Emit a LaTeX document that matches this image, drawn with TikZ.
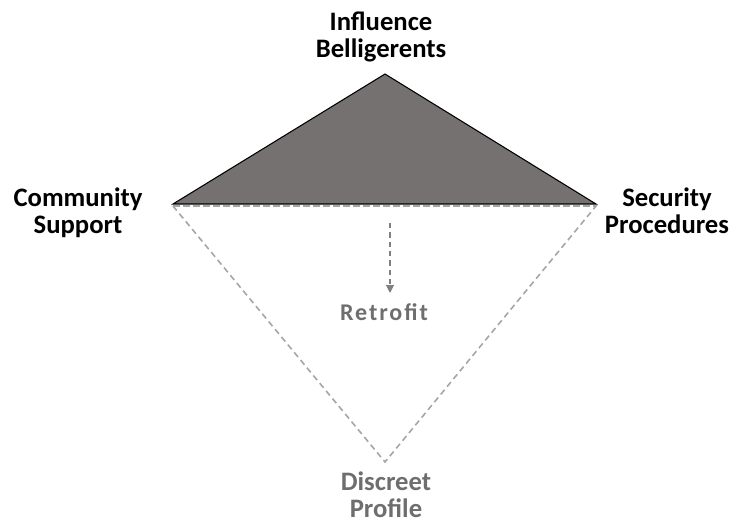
\documentclass[tikz,border=0pt]{standalone}
\usepackage{fontspec}
\setmainfont{Carlito}
\newfontfamily\retrofont[LetterSpace=8]{Carlito}
\usetikzlibrary{arrows.meta}
\definecolor{trifill}{HTML}{767171}
\definecolor{dashgray}{HTML}{A6A6A6}
\definecolor{labgray}{HTML}{6E6E6E}
\begin{document}
\begin{tikzpicture}[x=0.75pt,y=-0.75pt,
  lab/.style={align=center,anchor=base,inner sep=0pt,
    font=\fontsize{20}{20.25}\selectfont\bfseries},
  graylab/.style={lab,text=labgray},
  dashedge/.style={draw=dashgray,line width=1.2pt,dash pattern=on 4.5pt off 3pt},
  arrowline/.style={draw=gray,line width=0.8pt,dash pattern=on 4pt off 3pt,
    -{Triangle[length=6pt,width=6pt]}}]
\useasboundingbox (0,0) rectangle (747,525);
\coordinate (T) at (385,74);
\coordinate (L) at (173,204);
\coordinate (R) at (596,204);
\coordinate (B) at (385,462);
\coordinate (L2) at (173,206);
\coordinate (R2) at (596,206);
% lower dashed triangle
\draw[dashedge] (L2) -- (B) -- (R2) -- cycle;
% upper filled triangle
\filldraw[fill=trifill,draw=black,line width=0.8pt,line join=miter] (L) -- (T) -- (R) -- cycle;
\draw[dashedge] (L2) -- (R2);
% labels (anchor = baseline of the last line)
\node[lab] (top) at (381,57) {Influence\\Belligerents};
\node[lab] (left) at (78,233) {Community\\Support};
\node[lab] (right) at (667,233) {Security\\Procedures};
\node[graylab] (bottom) at (386,517) {Discreet\\Profile};
\node[graylab,font=\fontsize{18}{18}\selectfont\bfseries\retrofont] (retro) at (384,320) {Retrofit};
\coordinate (as) at (390,223);
\coordinate (ae) at (390,293);
\draw[arrowline] (as) -- (ae);
\end{tikzpicture}
\end{document}
